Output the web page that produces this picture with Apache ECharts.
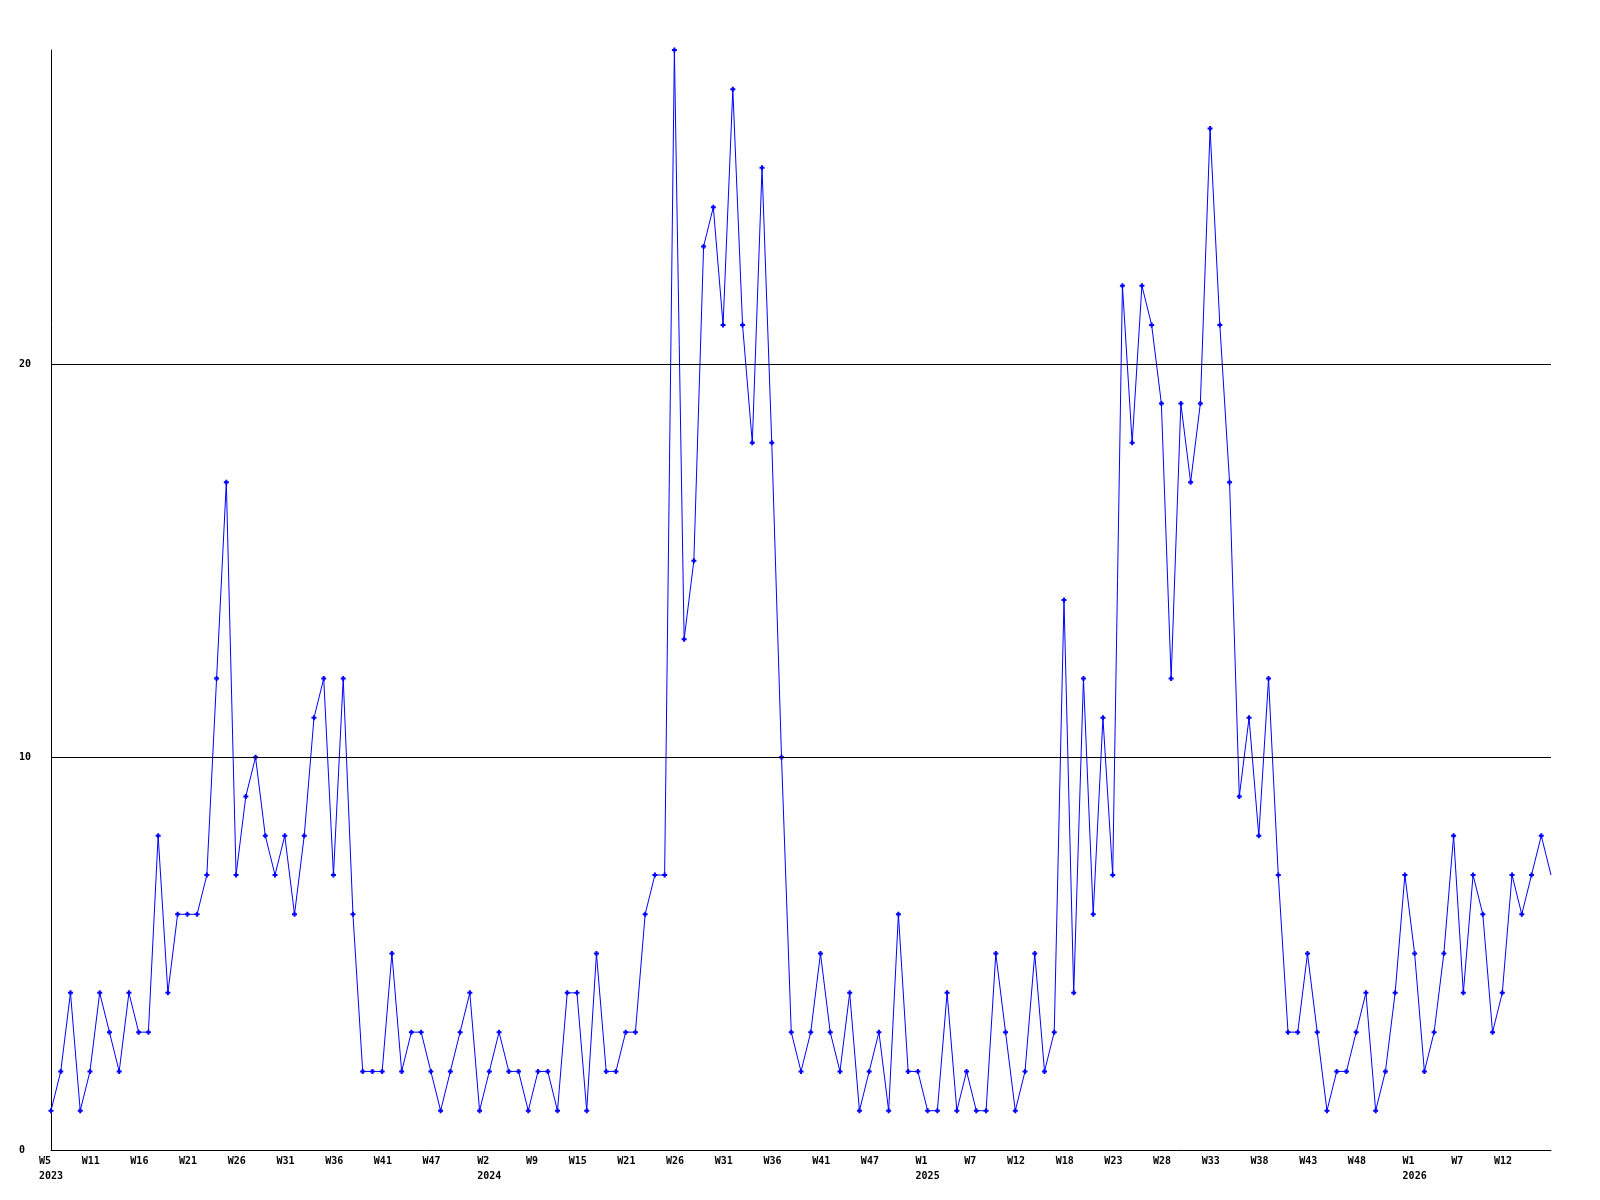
<!DOCTYPE html>
<html>
<head>
<meta charset="utf-8">
<script src="https://cdn.jsdelivr.net/npm/echarts@6/dist/echarts.min.js"></script>
<style>
  html, body { margin: 0; padding: 0; background: #fff; }
  #chart { width: 1600px; height: 1200px; }
</style>
</head>
<body>
<div id="chart"></div>
<script>
// weekly counts, one per point
const values = [
  1, 2, 4, 1, 2, 4, 3, 2, 4, 3,
  3, 8, 4, 6, 6, 6, 7, 12, 17, 7,
  9, 10, 8, 7, 8, 6, 8, 11, 12, 7,
  12, 6, 2, 2, 2, 5, 2, 3, 3, 2,
  1, 2, 3, 4, 1, 2, 3, 2, 2, 1,
  2, 2, 1, 4, 4, 1, 5, 2, 2, 3,
  3, 6, 7, 7, 28, 13, 15, 23, 24, 21,
  27, 21, 18, 25, 18, 10, 3, 2, 3, 5,
  3, 2, 4, 1, 2, 3, 1, 6, 2, 2,
  1, 1, 4, 1, 2, 1, 1, 5, 3, 1,
  2, 5, 2, 3, 14, 4, 12, 6, 11, 7,
  22, 18, 22, 21, 19, 12, 19, 17, 19, 26,
  21, 17, 9, 11, 8, 12, 7, 3, 3, 5,
  3, 1, 2, 2, 3, 4, 1, 2, 4, 7,
  5, 2, 3, 5, 8, 4, 7, 6, 3, 4,
  7, 6, 7, 8, 7
]

// a week label every 5 points
const weekTicks = ['W5', 'W11', 'W16', 'W21', 'W26', 'W31', 'W36', 'W41', 'W47',
  'W2', 'W9', 'W15', 'W21', 'W26', 'W31', 'W36', 'W41', 'W47',
  'W1', 'W7', 'W12', 'W18', 'W23', 'W28', 'W33', 'W38', 'W43', 'W48',
  'W1', 'W7', 'W12']
const yearLabels = ['2023', '2024', '2025', '2026']
const yearTickIdx = [0, 9, 18, 28]
const yTicks = [0, 10, 20]
const tickStep = 5

const categories = values.map((v, i) => i % tickStep === 0 ? weekTicks[i / tickStep] : '')
const yearCats = values.map((v, i) => {
  const k = yearTickIdx.indexOf(i / tickStep)
  return k >= 0 ? yearLabels[k] : ''
})

const font = { fontFamily: 'DejaVu Sans Mono', fontSize: 10, fontWeight: 'bold', color: '#000' }
// small bold cross used as point marker
const plus = 'path://M1.5,0H3.5V1.5H5V3.5H3.5V5H1.5V3.5H0V1.5H1.5Z'

const chart = echarts.init(document.getElementById('chart'))
chart.setOption({
  animation: false,
  backgroundColor: '#fff',
  grid: { left: 51, right: 49, top: 50, bottom: 50, containLabel: false },
  xAxis: [{
    type: 'category',
    data: categories,
    boundaryGap: false,
    axisLine: { show: true, lineStyle: { color: '#000', width: 1 } },
    axisTick: { show: false },
    splitLine: { show: false },
    axisLabel: Object.assign({
      interval: tickStep - 1,
      align: 'right',
      margin: 6,
      hideOverlap: false
    }, font)
  }, {
    type: 'category',
    data: yearCats,
    position: 'bottom',
    boundaryGap: false,
    axisLine: { show: false },
    axisTick: { show: false },
    splitLine: { show: false },
    axisLabel: Object.assign({
      interval: 0,
      align: 'center',
      margin: 21,
      hideOverlap: false
    }, font)
  }],
  yAxis: {
    type: 'value',
    min: 0,
    max: 28,
    interval: 10,
    axisLine: { show: true, lineStyle: { color: '#000', width: 1 } },
    axisTick: { show: false },
    splitLine: { show: false },
    axisLabel: Object.assign({
      align: 'left',
      margin: 32,
      showMaxLabel: false,
      formatter: v => yTicks.indexOf(v) >= 0 ? String(v) : ''
    }, font)
  },
  series: [{
    type: 'line',
    data: values.map((v, i) => i === values.length - 1 ? { value: v, symbolSize: 0 } : v),
    symbol: plus,
    symbolSize: 5,
    showAllSymbol: true,
    lineStyle: { color: '#0000ff', width: 1 },
    itemStyle: { color: '#0000ff' },
    markLine: {
      silent: true,
      symbol: 'none',
      label: { show: false },
      lineStyle: { color: '#000', width: 1, type: 'solid' },
      data: yTicks.filter(t => t > 0).map(t => ({ yAxis: t }))
    },
    z: 3
  }]
})
</script>
</body>
</html>
